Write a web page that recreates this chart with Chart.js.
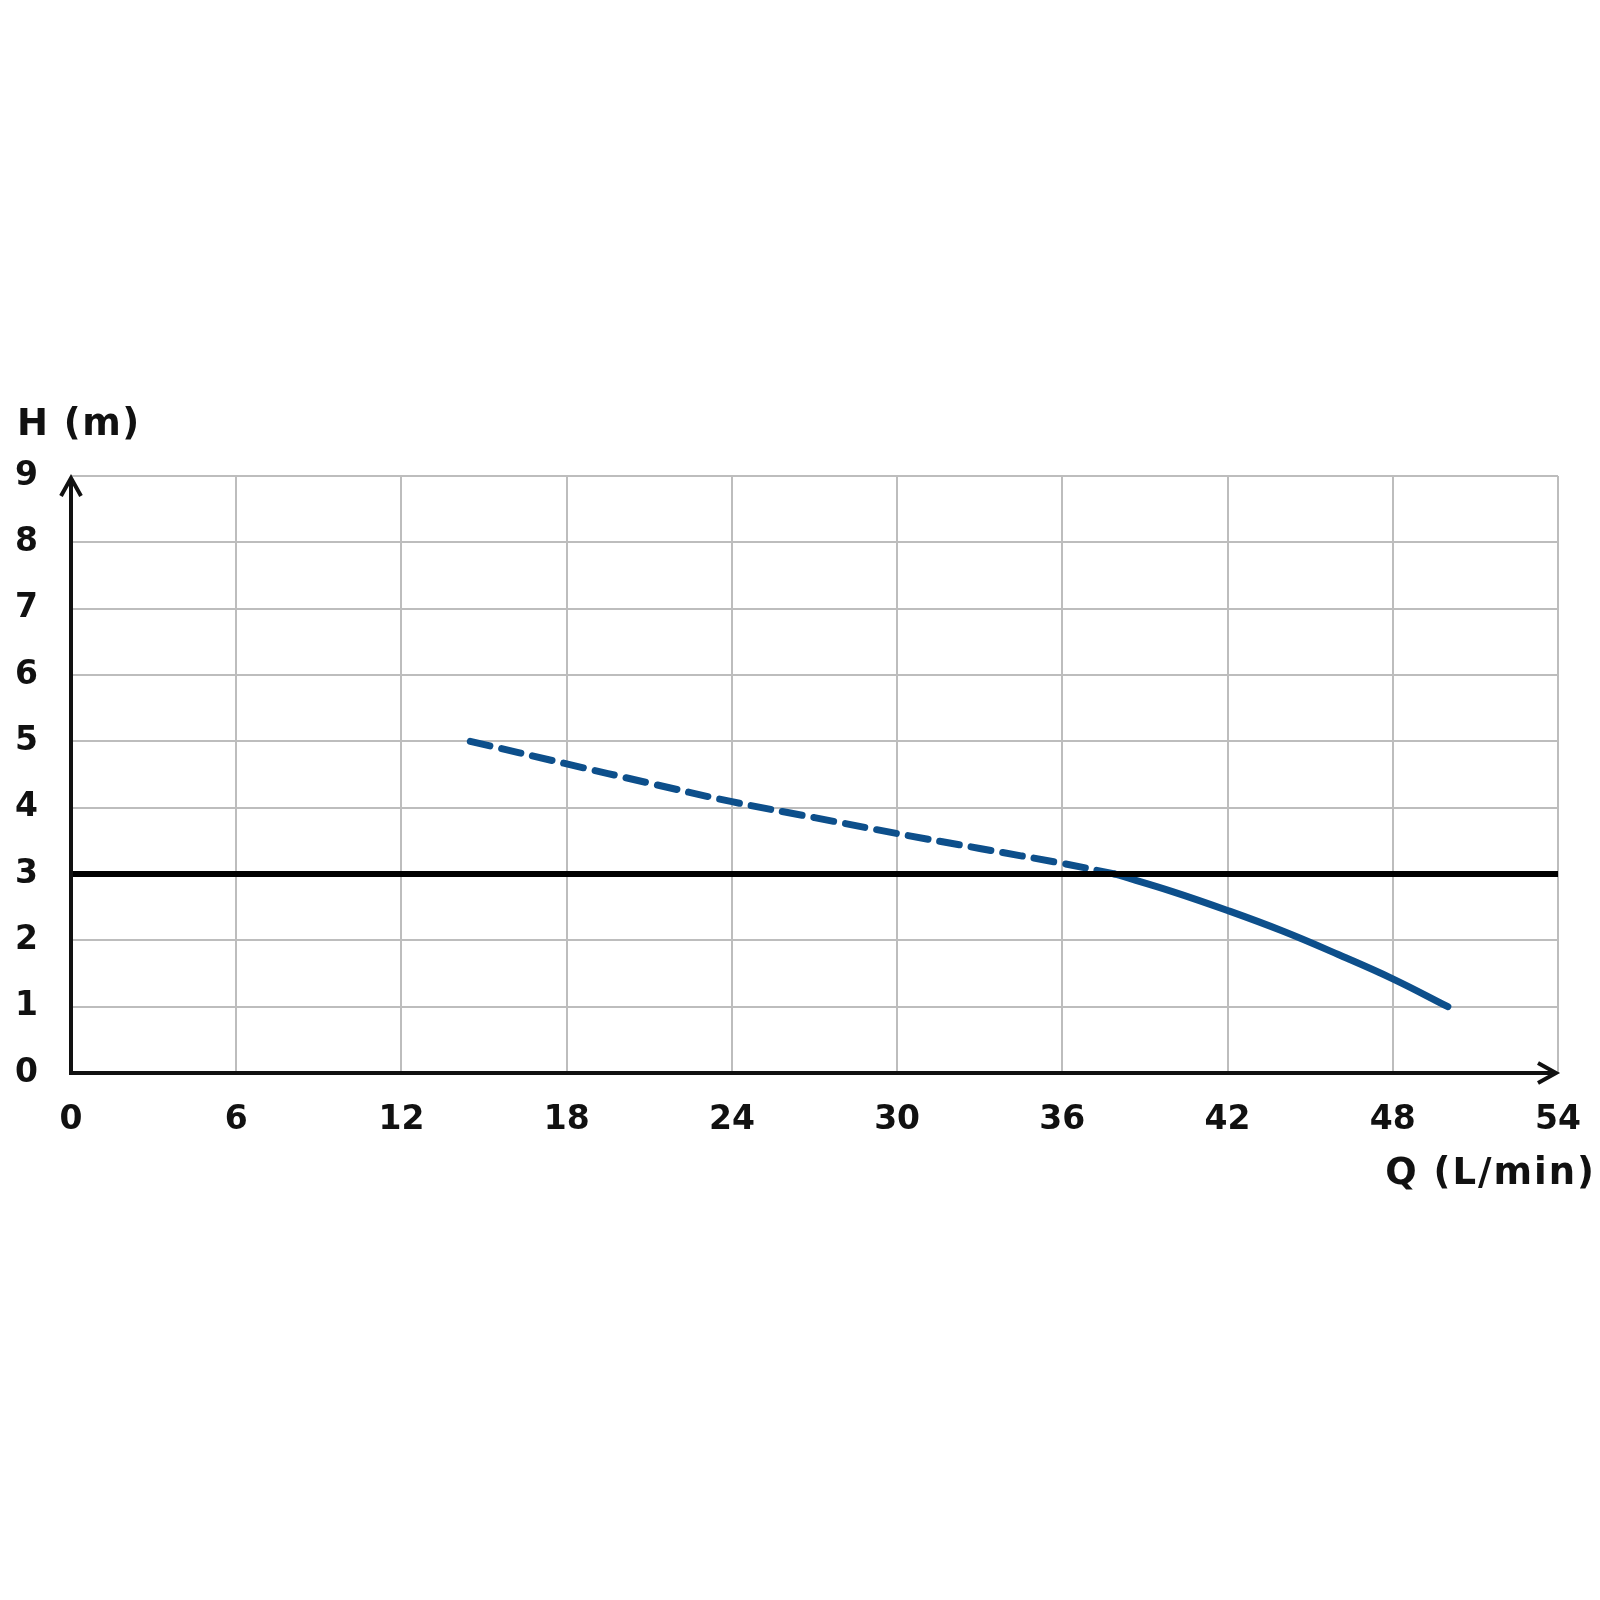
<!DOCTYPE html>
<html lang="en">
<head>
    <meta charset="UTF-8">
    <title>Pump curve H-Q</title>
    <script src="https://cdn.jsdelivr.net/npm/chart.js"></script>
    <style>
        body { margin: 0; background: #fff; }
        .chart-box { width: 1600px; height: 1600px; }
    </style>
</head>
<body>
    <div class="chart-box">
        <canvas id="pumpCurveChart"></canvas>
    </div>

    <script>
        // axis ticks
        const flowTicks = [0, 6, 12, 18, 24, 30, 36, 42, 48, 54];
        const headTicks = [0, 1, 2, 3, 4, 5, 6, 7, 8, 9];

        // dashed part of the curve (outside working range)
        const dashedQ = [14.5, 18, 21, 24, 27, 30, 33, 36, 37.9];
        const dashedH = [5.0, 4.66, 4.37, 4.09, 3.85, 3.61, 3.385, 3.16, 3.0];

        // solid part of the curve
        const solidQ = [37.9, 40, 42, 44, 46, 48, 50];
        const solidH = [3.0, 2.735, 2.45, 2.14, 1.79, 1.42, 1.0];

        // reference head line
        const refQ = [0, 54];
        const refH = [3, 3];

        const toPoints = (xs, ys) => xs.map((x, i) => ({ x: x, y: ys[i] }));

        const fontFamily = '"DejaVu Sans", sans-serif';
        const blue = '#0d4f8b';

        // black axes with arrow heads + axis titles
        const axisDecor = {
            id: 'axisDecor',
            afterDatasetsDraw(chart) {
                const ctx = chart.ctx;
                const a = chart.chartArea;
                ctx.save();
                ctx.strokeStyle = '#111';
                ctx.lineWidth = 4;
                ctx.lineJoin = 'miter';
                ctx.beginPath();
                ctx.moveTo(a.left, a.top + 2);
                ctx.lineTo(a.left, a.bottom);
                ctx.lineTo(a.right - 2, a.bottom);
                ctx.stroke();

                ctx.beginPath();
                ctx.moveTo(a.left - 10, a.top + 20);
                ctx.lineTo(a.left, a.top + 2);
                ctx.lineTo(a.left + 10, a.top + 20);
                ctx.moveTo(a.right - 20, a.bottom - 10);
                ctx.lineTo(a.right - 2, a.bottom);
                ctx.lineTo(a.right - 20, a.bottom + 10);
                ctx.stroke();

                ctx.fillStyle = '#111';
                ctx.font = 'bold 37px ' + fontFamily;
                ctx.letterSpacing = '1.5px';
                ctx.textBaseline = 'middle';
                ctx.textAlign = 'left';
                ctx.fillText('H (m)', 17, 425);
                ctx.letterSpacing = '2px';
                ctx.textAlign = 'right';
                ctx.fillText('Q (L/min)', 1596, 1174);
                ctx.restore();
            }
        };

        const ctx = document.getElementById('pumpCurveChart').getContext('2d');
        new Chart(ctx, {
            type: 'scatter',
            data: {
                datasets: [
                    {
                        label: 'H = 3 m',
                        data: toPoints(refQ, refH),
                        showLine: true,
                        borderColor: '#000',
                        borderWidth: 6,
                        pointRadius: 0,
                        order: 0
                    },
                    {
                        label: 'Curve (dashed)',
                        data: toPoints(dashedQ, dashedH),
                        showLine: true,
                        borderColor: blue,
                        borderWidth: 7,
                        borderDash: [20, 12],
                        borderCapStyle: 'round',
                        tension: 0.4,
                        pointRadius: 0,
                        order: 2
                    },
                    {
                        label: 'Curve',
                        data: toPoints(solidQ, solidH),
                        showLine: true,
                        borderColor: blue,
                        borderWidth: 7,
                        borderCapStyle: 'round',
                        tension: 0.4,
                        pointRadius: 0,
                        order: 1
                    }
                ]
            },
            options: {
                responsive: true,
                maintainAspectRatio: false,
                animation: false,
                layout: { padding: { top: 476, right: 42, bottom: 0, left: 0 } },
                plugins: {
                    legend: { display: false },
                    tooltip: { enabled: false }
                },
                scales: {
                    x: {
                        type: 'linear',
                        min: flowTicks[0],
                        max: flowTicks[flowTicks.length - 1],
                        afterBuildTicks: (scale) => { scale.ticks = flowTicks.map(v => ({ value: v })); },
                        afterFit: (scale) => {
                            scale.height = 527;
                            scale.paddingLeft = 0;
                            scale.paddingRight = 0;
                        },
                        grid: { color: '#bdbdbd', lineWidth: 2, drawTicks: false },
                        border: { display: false },
                        ticks: {
                            padding: 28,
                            color: '#111',
                            font: { family: fontFamily, size: 33, weight: 'bold' }
                        }
                    },
                    y: {
                        type: 'linear',
                        min: headTicks[0],
                        max: headTicks[headTicks.length - 1],
                        afterBuildTicks: (scale) => { scale.ticks = headTicks.map(v => ({ value: v })); },
                        afterFit: (scale) => { scale.width = 71; },
                        grid: { color: '#bdbdbd', lineWidth: 2, drawTicks: false },
                        border: { display: false },
                        ticks: {
                            padding: 33,
                            color: '#111',
                            font: { family: fontFamily, size: 33, weight: 'bold' }
                        }
                    }
                }
            },
            plugins: [axisDecor]
        });
    </script>
</body>
</html>
